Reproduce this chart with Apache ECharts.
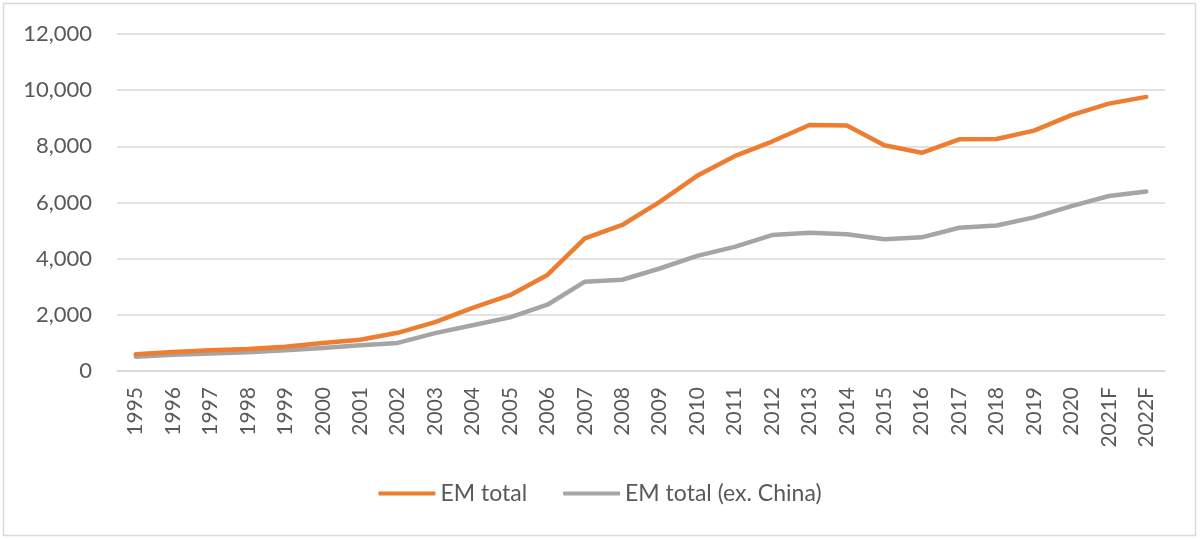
<!DOCTYPE html>
<html>
<head>
<meta charset="utf-8">
<script src="https://cdn.jsdelivr.net/npm/echarts@6/dist/echarts.min.js"></script>
<style>
html,body{margin:0;padding:0;background:#fff;}
#chart{width:1200px;height:540px;}
</style>
</head>
<body>
<div id="chart"></div>
<script>
const categories = ['1995','1996','1997','1998','1999','2000','2001','2002','2003','2004','2005','2006','2007','2008','2009','2010','2011','2012','2013','2014','2015','2016','2017','2018','2019','2020','2021F','2022F'];
const emTotal = [600,680,740,780,860,1000,1110,1360,1740,2250,2700,3420,4720,5200,6020,6950,7650,8170,8760,8740,8040,7770,8250,8260,8560,9110,9520,9760];
const emExChina = [510,580,620,670,740,820,920,1000,1350,1630,1910,2360,3180,3250,3650,4100,4420,4840,4920,4870,4690,4760,5100,5180,5470,5870,6230,6390];
const yTicks = {min:0, max:12000, interval:2000};
const seriesNames = ['EM total','EM total (ex. China)'];

const chart = echarts.init(document.getElementById('chart'), null, {renderer:'canvas'});
const font = 'Lato, "Open Sans", sans-serif';
chart.setOption({
  animation:false,
  backgroundColor:'#fff',
  graphic:[{type:'rect', shape:{x:3.5,y:3.5,width:1192,height:532}, style:{fill:'none', stroke:'#D9D9D9', lineWidth:1.5}, silent:true}],
  grid:{left:117,right:35,top:34,bottom:169},
  legend:{
    bottom:30, left:'center',
    itemWidth:57, itemHeight:4, itemGap:36,
    icon:'roundRect',
    textStyle:{color:'#595959', fontSize:23, fontFamily:font},
    data:seriesNames
  },
  xAxis:{
    type:'category', data:categories, boundaryGap:true,
    axisLine:{lineStyle:{color:'#D9D9D9', width:1.5}},
    axisTick:{show:false},
    axisLabel:{rotate:90, color:'#595959', fontSize:21, fontFamily:font, margin:16, interval:0}
  },
  yAxis:{
    type:'value', min:yTicks.min, max:yTicks.max, interval:yTicks.interval,
    axisLine:{show:false}, axisTick:{show:false},
    splitLine:{lineStyle:{color:'#D9D9D9', width:1.5}},
    axisLabel:{color:'#595959', fontSize:22, fontFamily:font, margin:25,
      formatter:v=>v.toLocaleString('en-US')}
  },
  series:[
    {name:seriesNames[0], type:'line', data:emTotal, symbol:'none', lineStyle:{color:'#ED7D31', width:4.5, cap:'round', join:'round'}, itemStyle:{color:'#ED7D31'}},
    {name:seriesNames[1], type:'line', data:emExChina, symbol:'none', lineStyle:{color:'#A5A5A5', width:4.5, cap:'round', join:'round'}, itemStyle:{color:'#A5A5A5'}, z:1}
  ]
});
</script>
</body>
</html>
